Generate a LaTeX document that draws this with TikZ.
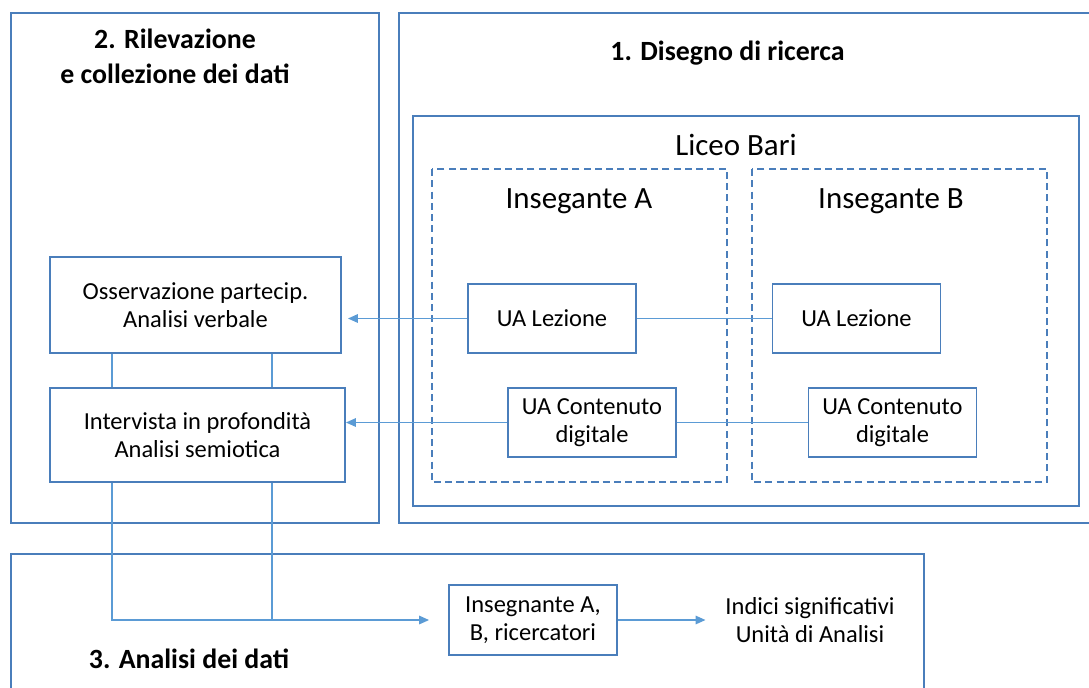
\documentclass[tikz,border=0pt]{standalone}
\usepackage{fontspec}
\setmainfont{Carlito}
\usepackage{tikz}
\usetikzlibrary{arrows.meta,calc}
\definecolor{boxblue}{RGB}{74,126,187}
\definecolor{linkblue}{RGB}{91,155,213}
\tikzstyle{frame}=[draw=boxblue, line width=1.3pt]
\tikzstyle{dashframe}=[draw=boxblue, line width=1.1pt, dash pattern=on 5pt off 3pt]
\tikzstyle{ua}=[frame, align=center, minimum width=4.2cm, minimum height=1.725cm, inner sep=0pt, font=\fontsize{17.4}{20}\selectfont]
\tikzstyle{plain}=[align=center, font=\fontsize{17.4}{20}\selectfont]
\tikzstyle{link}=[draw=linkblue, line width=1pt]
\tikzstyle{flow}=[link, -{Triangle[length=7pt,width=6pt]}]
\tikzstyle{title}=[align=center, font=\bfseries\fontsize{19.8}{24.8}\selectfont]
\tikzstyle{head}=[font=\fontsize{22}{26}\selectfont]

\begin{document}
\begin{tikzpicture}[x=0.025cm, y=-0.025cm]
 \useasboundingbox (0,0) rectangle (1089,687);
 \clip (0,0) rectangle (1089,687);
% sections
 \draw[frame] (11,13) rectangle (379,523);
 \draw[frame] (399,13) rectangle (1100,523);
 \draw[frame] (11,554) rectangle (924,700);
 \draw[frame] (413,116) rectangle (1079,506);
 \draw[dashframe] (432,169) rectangle (727,482);
 \draw[dashframe] (752,169) rectangle (1047,482);
%
 \node[title] (rilev) at (175,56) {2. Rilevazione\\ e collezione dei dati};
 \node[title] (disegno) at (727.5,53) {1. Disegno di ricerca};
 \node[title] (analisi) at (189,659) {3. Analisi dei dati};
 \node[head] (liceo) at (736,145) {Liceo Bari};
 \node[head] (insA) at (579,201) {Insegante A};
 \node[head] (insB) at (891,201) {Insegante B};
%
 \node[ua, minimum width=7.275cm, minimum height=2.4cm] (osserv) at (195.5,305) {Osservazione partecip.\\ Analisi verbale};
 \node[ua, minimum width=7.375cm, minimum height=2.35cm] (interv) at (197.5,435) {Intervista in profondità\\ Analisi semiotica};
 \node[ua] (lezA) at (552,318.5) {UA Lezione};
 \node[ua] (lezB) at (856.5,318.5) {UA Lezione};
 \node[ua] (contA) at (592,422.5) {UA Contenuto\\ digitale};
 \node[ua] (contB) at (892.5,422.5) {UA Contenuto\\ digitale};
 \node[ua, minimum height=1.75cm] (insegn) at (533,620) {Insegnante A,\\ B, ricercatori};
 \node[plain] (indici) at (810,620) {Indici significativi\\ Unità di Analisi};
%
 \coordinate (c1) at (112,0);
 \coordinate (c2) at (272,0);
 \draw[link] (lezA) -- (lezB);
 \draw[link] (contA) -- (contB);
 \draw[flow, shorten >=0.15cm] (lezA.west) -- (lezA.west -| osserv.east);
 \draw[flow] (contA.west) -- (contA.west -| interv.east);
 \draw[link] (osserv.south -| c1) -- (interv.north -| c1);
 \draw[link] (osserv.south -| c2) -- (interv.north -| c2);
 \draw[flow, shorten >=0.475cm] (interv.south -| c1) |- (insegn.west);
 \draw[link] (interv.south -| c2) -- (insegn.west -| c2);
 \draw[flow, shorten >=0.375cm] (insegn.east) -- (indici.west);
\end{tikzpicture}
\end{document}
